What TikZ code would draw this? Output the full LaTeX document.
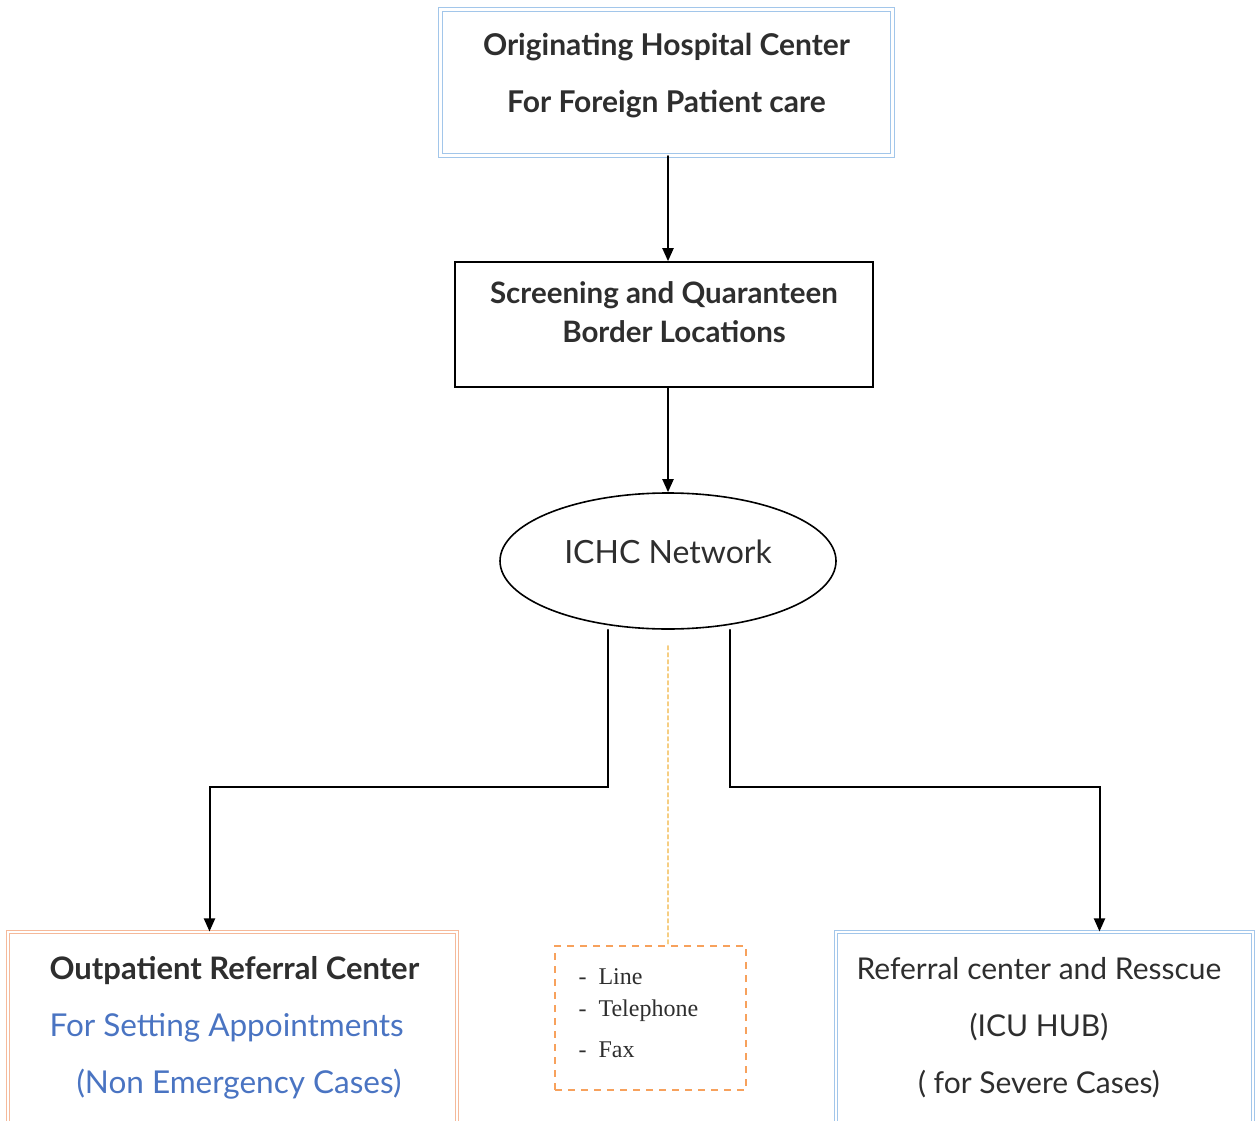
\documentclass[tikz,border=0pt]{standalone}
\usepackage{fontspec}
\setmainfont{Lato}
\newfontfamily\listfont{Liberation Serif}
\usepackage{tikz}
\usetikzlibrary{arrows.meta, calc, shapes.geometric}
\definecolor{boxblue}{HTML}{A2C6EA}
\definecolor{boxsalmon}{HTML}{F5B99A}
\definecolor{dashorange}{HTML}{F7A15C}
\definecolor{dashyellow}{HTML}{F6CE82}
\definecolor{textblue}{HTML}{4A74C2}
\definecolor{textgray}{HTML}{2E2E2E}

\begin{document}
\begin{tikzpicture}[x=1pt, y=1pt, line cap=round,
		arr/.style={line width=2pt, -{Triangle[length=13pt, width=11pt]}},
		bluebox/.style={draw=boxblue, double=white, double distance=2.5pt, line width=1.1pt},
		salmonbox/.style={draw=boxsalmon, double=white, double distance=2.5pt, line width=1.1pt},
		blackbox/.style={draw=black, line width=1.6pt},
		head/.style={text=textgray, font=\fontsize{30}{57}\selectfont, align=center},
	]

	\useasboundingbox (0,0) rectangle (1255,-1121);
	\clip (0,0) rectangle (1255,-1121);

	% boxes
	\node[bluebox, minimum width=452pt, minimum height=146pt] (orig) at (666.5,-82.5) {};
	\node[head, font=\bfseries\fontsize{30}{57}\selectfont] (orig-t) at ([yshift=7pt]orig.center) {Originating Hospital Center\\For Foreign Patient care};

	\node[blackbox, minimum width=418pt, minimum height=125pt] (scr) at (664,-324.5) {};
	\node[head, font=\bfseries\fontsize{29.5}{39}\selectfont] (scr-t) at ([yshift=12pt]scr.center) {Screening and Quaranteen\\\hspace*{20pt}Border Locations};

	\node[ellipse, draw=black, line width=1.6pt, minimum width=336pt, minimum height=136pt] (net) at (668,-561) {};
	\node[text=textgray, font=\fontsize{32}{38}\selectfont] (net-t) at ([yshift=9pt]net.center) {ICHC Network};

	\node[salmonbox, minimum width=449pt, minimum height=200pt] (opd) at (232.5,-1032) {};
	\node[head, align=left, anchor=west, font=\fontsize{30}{57}\selectfont] (opd-t) at (46,-1028)
		{\textbf{\fontsize{31}{57}\selectfont Outpatient Referral Center}\\\textcolor{textblue}{\fontsize{31.5}{57}\selectfont For Setting Appointments}\\\hspace*{27pt}\textcolor{textblue}{\fontsize{31.5}{57}\selectfont (Non Emergency Cases)}};

	\node[bluebox, minimum width=417pt, minimum height=200pt] (icu) at (1044.5,-1032) {};
	\node[head] (icu-t) at (1039,-1028) {Referral center and Resscue\\(ICU HUB)\\( for Severe Cases)};

	\node[draw=dashorange, line width=1.8pt, dash pattern=on 7pt off 6pt, line cap=butt,
		minimum width=191pt, minimum height=144pt] (media) at (650.5,-1018) {};
	\node[anchor=north west, align=left, text=textgray, font=\listfont\fontsize{24}{32}\selectfont] (media-t) at (575,-965)
		{-\hspace{0.5em}Line\\-\hspace{0.5em}Telephone\\[9pt]-\hspace{0.5em}Fax};

	% connectors
	\draw[arr] (orig.south -| net.north) -- (scr.north -| net.north);
	\draw[arr] (scr.south -| net.north) -- (net.north);
	\draw[arr] ([xshift=-60pt]net.south) -- ++(0,-157) -| ([xshift=-23pt]opd.north);
	\draw[arr] ([xshift=62pt]net.south) -- ++(0,-157) -| ([xshift=55pt]icu.north);
	\draw[dashyellow, line width=1.2pt, dash pattern=on 4pt off 3pt] ([yshift=-16pt]net.south) -- ([xshift=17.5pt]media.north);

\end{tikzpicture}
\end{document}
